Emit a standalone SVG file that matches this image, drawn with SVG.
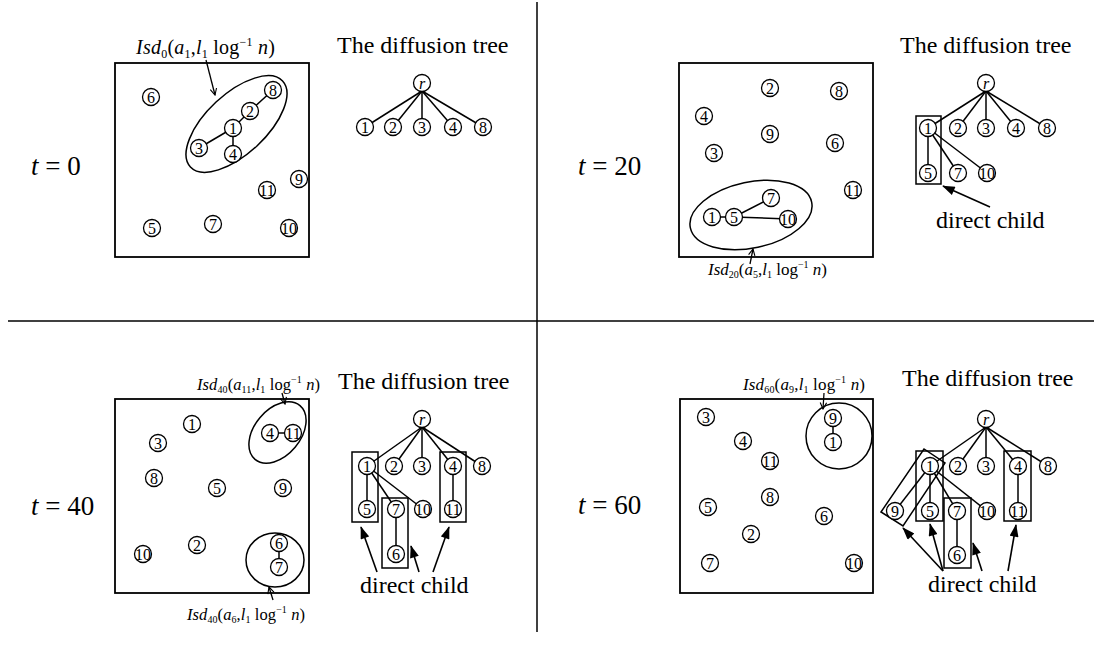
<svg xmlns="http://www.w3.org/2000/svg" width="1094" height="658" viewBox="0 0 1094 658">
<style>
text{font-family:"Liberation Serif","Times New Roman",serif;fill:#000}
.n circle{fill:#fff;stroke:#000;stroke-width:1.3}
.n text{font-size:16px;text-anchor:middle}
.i{font-style:italic}
.box{fill:none;stroke:#000;stroke-width:1.8}
.grp{fill:none;stroke:#000;stroke-width:1.5}
.e{stroke:#000;stroke-width:1.5;fill:none}
.ao{stroke:#000;stroke-width:1.3;fill:none;marker-end:url(#open)}
.as{stroke:#000;stroke-width:1.6;fill:none;marker-end:url(#solid)}
.div{stroke:#000;stroke-width:1.5}
.t{font-size:27px}
.title{font-size:24px}
.lbl{font-size:17px}
</style>
<defs>
<marker id="open" viewBox="0 0 10 10" refX="9" refY="5" markerWidth="8" markerHeight="8" markerUnits="userSpaceOnUse" orient="auto"><path d="M1,1 L9,5 L1,9" fill="none" stroke="#000" stroke-width="1.4"/></marker>
<marker id="solid" viewBox="0 0 14 10" refX="13" refY="5" markerWidth="14" markerHeight="9" markerUnits="userSpaceOnUse" orient="auto"><path d="M0,0 L14,5 L0,10 z" fill="#000"/></marker>
</defs>
<rect width="1094" height="658" fill="#fff"/>

<g id="dividers">
<line class="div" x1="8" y1="321" x2="1094" y2="321"/>
<line class="div" x1="537" y1="2" x2="537" y2="632"/>
</g>

<g id="frames">
<rect class="box" x="115" y="63" width="194" height="194"/>
<rect class="box" x="679" y="63" width="194" height="194"/>
<rect class="box" x="115" y="399" width="194" height="194"/>
<rect class="box" x="680" y="399" width="193" height="194"/>
<ellipse class="grp" cx="236.5" cy="124" rx="63" ry="30" transform="rotate(-43 236.5 124)"/>
<ellipse class="grp" cx="751" cy="215" rx="62" ry="33" transform="rotate(-12 751 215)"/>
<ellipse class="grp" cx="277.5" cy="432.5" rx="35" ry="23" transform="rotate(-50 277.5 432.5)"/>
<ellipse class="grp" cx="275" cy="560" rx="29" ry="27"/>
<circle class="grp" cx="839" cy="436" r="33"/>
<rect class="grp" x="916" y="116" width="25" height="68"/>
<rect class="grp" x="352" y="452" width="26" height="70"/>
<rect class="grp" x="382" y="498" width="26" height="70"/>
<rect class="grp" x="440" y="452" width="26" height="70"/>
<rect class="grp" x="916" y="451" width="27" height="70"/>
<rect class="grp" x="944" y="498" width="27" height="70"/>
<rect class="grp" x="1004" y="451" width="27" height="70"/>
<polygon class="grp" points="881,512 924,449 945,463 903,526"/>
</g>

<g id="labels">
<text class="t" x="31" y="175"><tspan class="i">t</tspan> = 0</text>
<text class="t" x="578" y="175"><tspan class="i">t</tspan> = 20</text>
<text class="t" x="31" y="515"><tspan class="i">t</tspan> = 40</text>
<text class="t" x="578" y="514"><tspan class="i">t</tspan> = 60</text>
<text class="title" x="337" y="53">The diffusion tree</text>
<text class="title" x="900" y="53">The diffusion tree</text>
<text class="title" x="338" y="389">The diffusion tree</text>
<text class="title" x="902" y="386">The diffusion tree</text>
<text class="title" x="936" y="228">direct child</text>
<text class="title" x="360" y="593">direct child</text>
<text class="title" x="928" y="592">direct child</text>
<text x="136" y="54" font-size="20" textLength="139"><tspan class="i">Isd</tspan><tspan font-size="12" dy="4">0</tspan><tspan dy="-4">(</tspan><tspan class="i">a</tspan><tspan font-size="12" dy="4">1</tspan><tspan dy="-4">,</tspan><tspan class="i">l</tspan><tspan font-size="12" dy="4">1</tspan><tspan dy="-4"> log</tspan><tspan font-size="12" dy="-8">−1</tspan><tspan dy="8" class="i"> n</tspan><tspan>)</tspan></text>
<text x="708" y="275" font-size="17" textLength="119"><tspan class="i">Isd</tspan><tspan font-size="10" dy="3">20</tspan><tspan dy="-3">(</tspan><tspan class="i">a</tspan><tspan font-size="10" dy="3">5</tspan><tspan dy="-3">,</tspan><tspan class="i">l</tspan><tspan font-size="10" dy="3">1</tspan><tspan dy="-3"> log</tspan><tspan font-size="10" dy="-7">−1</tspan><tspan dy="7" class="i"> n</tspan><tspan>)</tspan></text>
<text x="197" y="390" font-size="16.5" textLength="123"><tspan class="i">Isd</tspan><tspan font-size="10" dy="3">40</tspan><tspan dy="-3">(</tspan><tspan class="i">a</tspan><tspan font-size="10" dy="3">11</tspan><tspan dy="-3">,</tspan><tspan class="i">l</tspan><tspan font-size="10" dy="3">1</tspan><tspan dy="-3"> log</tspan><tspan font-size="10" dy="-7">−1</tspan><tspan dy="7" class="i"> n</tspan><tspan>)</tspan></text>
<text x="187" y="620" font-size="16.5" textLength="118"><tspan class="i">Isd</tspan><tspan font-size="10" dy="3">40</tspan><tspan dy="-3">(</tspan><tspan class="i">a</tspan><tspan font-size="10" dy="3">6</tspan><tspan dy="-3">,</tspan><tspan class="i">l</tspan><tspan font-size="10" dy="3">1</tspan><tspan dy="-3"> log</tspan><tspan font-size="10" dy="-7">−1</tspan><tspan dy="7" class="i"> n</tspan><tspan>)</tspan></text>
<text x="743" y="390" font-size="17" textLength="122"><tspan class="i">Isd</tspan><tspan font-size="10" dy="3">60</tspan><tspan dy="-3">(</tspan><tspan class="i">a</tspan><tspan font-size="10" dy="3">9</tspan><tspan dy="-3">,</tspan><tspan class="i">l</tspan><tspan font-size="10" dy="3">1</tspan><tspan dy="-3"> log</tspan><tspan font-size="10" dy="-7">−1</tspan><tspan dy="7" class="i"> n</tspan><tspan>)</tspan></text>
</g>

<g id="connectors">
<!-- Q1 field -->
<line class="e" x1="273" y1="90" x2="250" y2="111"/>
<line class="e" x1="250" y1="111" x2="233" y2="128"/>
<line class="e" x1="233" y1="128" x2="199" y2="148"/>
<line class="e" x1="233" y1="128" x2="233" y2="154"/>
<line class="ao" x1="206" y1="60" x2="215" y2="95"/>
<!-- Q1 tree -->
<line class="e" x1="422" y1="91" x2="365" y2="127"/>
<line class="e" x1="422" y1="91" x2="393" y2="127"/>
<line class="e" x1="422" y1="91" x2="422" y2="127"/>
<line class="e" x1="422" y1="91" x2="453" y2="127"/>
<line class="e" x1="422" y1="91" x2="483" y2="127"/>
<!-- Q2 field -->
<line class="e" x1="712" y1="217" x2="734" y2="217"/>
<line class="e" x1="734" y1="217" x2="771" y2="198"/>
<line class="e" x1="734" y1="217" x2="788" y2="219"/>
<line class="ao" x1="750" y1="264" x2="753" y2="249"/>
<!-- Q2 tree -->
<line class="e" x1="986" y1="91" x2="928" y2="128"/>
<line class="e" x1="986" y1="91" x2="958" y2="128"/>
<line class="e" x1="986" y1="91" x2="986" y2="128"/>
<line class="e" x1="986" y1="91" x2="1016" y2="128"/>
<line class="e" x1="986" y1="91" x2="1047" y2="128"/>
<line class="e" x1="928" y1="128" x2="928" y2="173"/>
<line class="e" x1="928" y1="128" x2="958" y2="173"/>
<line class="e" x1="928" y1="128" x2="987" y2="173"/>
<line class="as" x1="990" y1="207" x2="943" y2="186"/>
<!-- Q3 field -->
<line class="e" x1="270" y1="433" x2="293" y2="433"/>
<line class="e" x1="279" y1="543" x2="279" y2="567"/>
<line class="ao" x1="282" y1="393" x2="285" y2="404"/>
<line class="ao" x1="273" y1="600" x2="269" y2="587"/>
<!-- Q3 tree -->
<line class="e" x1="422" y1="427" x2="367" y2="466"/>
<line class="e" x1="422" y1="427" x2="394" y2="466"/>
<line class="e" x1="422" y1="427" x2="422" y2="466"/>
<line class="e" x1="422" y1="427" x2="453" y2="466"/>
<line class="e" x1="422" y1="427" x2="482" y2="466"/>
<line class="e" x1="367" y1="466" x2="367" y2="509"/>
<line class="e" x1="367" y1="466" x2="396" y2="509"/>
<line class="e" x1="367" y1="466" x2="423" y2="509"/>
<line class="e" x1="453" y1="466" x2="453" y2="509"/>
<line class="e" x1="396" y1="509" x2="396" y2="554"/>
<line class="as" x1="377" y1="572" x2="361" y2="527"/>
<line class="as" x1="419" y1="572" x2="411" y2="546"/>
<line class="as" x1="433" y1="572" x2="449" y2="527"/>
<!-- Q4 field -->
<line class="e" x1="833" y1="418" x2="833" y2="442"/>
<line class="ao" x1="824" y1="393" x2="823" y2="409"/>
<!-- Q4 tree -->
<line class="e" x1="986" y1="427" x2="930" y2="466"/>
<line class="e" x1="986" y1="427" x2="958" y2="466"/>
<line class="e" x1="986" y1="427" x2="986" y2="466"/>
<line class="e" x1="986" y1="427" x2="1018" y2="466"/>
<line class="e" x1="986" y1="427" x2="1048" y2="466"/>
<line class="e" x1="930" y1="466" x2="895" y2="511"/>
<line class="e" x1="930" y1="466" x2="930" y2="511"/>
<line class="e" x1="930" y1="466" x2="957" y2="511"/>
<line class="e" x1="930" y1="466" x2="987" y2="511"/>
<line class="e" x1="1018" y1="466" x2="1018" y2="511"/>
<line class="e" x1="957" y1="511" x2="957" y2="555"/>
<line class="as" x1="943" y1="571" x2="903" y2="528"/>
<line class="as" x1="943" y1="571" x2="930" y2="524"/>
<line class="as" x1="982" y1="571" x2="973" y2="543"/>
<line class="as" x1="1008" y1="571" x2="1016" y2="525"/>
</g>

<!-- Q1 field nodes -->
<g id="q1f-6" class="n"><circle cx="151" cy="97" r="8.5"/><text x="151" y="102.5">6</text></g>
<g id="q1f-8" class="n"><circle cx="273" cy="90" r="8.5"/><text x="273" y="95.5">8</text></g>
<g id="q1f-2" class="n"><circle cx="250" cy="111" r="8.5"/><text x="250" y="116.5">2</text></g>
<g id="q1f-1" class="n"><circle cx="233" cy="128" r="8.5"/><text x="233" y="133.5">1</text></g>
<g id="q1f-3" class="n"><circle cx="199" cy="148" r="8.5"/><text x="199" y="153.5">3</text></g>
<g id="q1f-4" class="n"><circle cx="233" cy="154" r="8.5"/><text x="233" y="159.5">4</text></g>
<g id="q1f-9" class="n"><circle cx="299" cy="179" r="8.5"/><text x="299" y="184.5">9</text></g>
<g id="q1f-11" class="n"><circle cx="267" cy="190" r="8.5"/><text x="267" y="195.5">11</text></g>
<g id="q1f-5" class="n"><circle cx="152" cy="228" r="8.5"/><text x="152" y="233.5">5</text></g>
<g id="q1f-7" class="n"><circle cx="213" cy="224" r="8.5"/><text x="213" y="229.5">7</text></g>
<g id="q1f-10" class="n"><circle cx="289" cy="228" r="8.5"/><text x="289" y="233.5">10</text></g>
<!-- Q1 tree nodes -->
<g id="q1t-r" class="n"><circle cx="422" cy="83" r="8.5"/><text class="i" x="422" y="88.5">r</text></g>
<g id="q1t-1" class="n"><circle cx="365" cy="127" r="8.5"/><text x="365" y="132.5">1</text></g>
<g id="q1t-2" class="n"><circle cx="393" cy="127" r="8.5"/><text x="393" y="132.5">2</text></g>
<g id="q1t-3" class="n"><circle cx="422" cy="127" r="8.5"/><text x="422" y="132.5">3</text></g>
<g id="q1t-4" class="n"><circle cx="453" cy="127" r="8.5"/><text x="453" y="132.5">4</text></g>
<g id="q1t-8" class="n"><circle cx="483" cy="127" r="8.5"/><text x="483" y="132.5">8</text></g>
<!-- Q2 field nodes -->
<g id="q2f-2" class="n"><circle cx="770" cy="88" r="8.5"/><text x="770" y="93.5">2</text></g>
<g id="q2f-8" class="n"><circle cx="839" cy="91" r="8.5"/><text x="839" y="96.5">8</text></g>
<g id="q2f-4" class="n"><circle cx="704" cy="116" r="8.5"/><text x="704" y="121.5">4</text></g>
<g id="q2f-9" class="n"><circle cx="770" cy="134" r="8.5"/><text x="770" y="139.5">9</text></g>
<g id="q2f-6" class="n"><circle cx="835" cy="143" r="8.5"/><text x="835" y="148.5">6</text></g>
<g id="q2f-3" class="n"><circle cx="714" cy="153" r="8.5"/><text x="714" y="158.5">3</text></g>
<g id="q2f-11" class="n"><circle cx="853" cy="190" r="8.5"/><text x="853" y="195.5">11</text></g>
<g id="q2f-7" class="n"><circle cx="771" cy="198" r="8.5"/><text x="771" y="203.5">7</text></g>
<g id="q2f-1" class="n"><circle cx="712" cy="217" r="8.5"/><text x="712" y="222.5">1</text></g>
<g id="q2f-5" class="n"><circle cx="734" cy="217" r="8.5"/><text x="734" y="222.5">5</text></g>
<g id="q2f-10" class="n"><circle cx="788" cy="219" r="8.5"/><text x="788" y="224.5">10</text></g>
<!-- Q2 tree nodes -->
<g id="q2t-r" class="n"><circle cx="986" cy="83" r="8.5"/><text class="i" x="986" y="88.5">r</text></g>
<g id="q2t-1" class="n"><circle cx="928" cy="128" r="8.5"/><text x="928" y="133.5">1</text></g>
<g id="q2t-2" class="n"><circle cx="958" cy="128" r="8.5"/><text x="958" y="133.5">2</text></g>
<g id="q2t-3" class="n"><circle cx="986" cy="128" r="8.5"/><text x="986" y="133.5">3</text></g>
<g id="q2t-4" class="n"><circle cx="1016" cy="128" r="8.5"/><text x="1016" y="133.5">4</text></g>
<g id="q2t-8" class="n"><circle cx="1047" cy="128" r="8.5"/><text x="1047" y="133.5">8</text></g>
<g id="q2t-5" class="n"><circle cx="928" cy="173" r="8.5"/><text x="928" y="178.5">5</text></g>
<g id="q2t-7" class="n"><circle cx="958" cy="173" r="8.5"/><text x="958" y="178.5">7</text></g>
<g id="q2t-10" class="n"><circle cx="987" cy="173" r="8.5"/><text x="987" y="178.5">10</text></g>
<!-- Q3 field nodes -->
<g id="q3f-1" class="n"><circle cx="192" cy="424" r="8.5"/><text x="192" y="429.5">1</text></g>
<g id="q3f-3" class="n"><circle cx="158" cy="443" r="8.5"/><text x="158" y="448.5">3</text></g>
<g id="q3f-4" class="n"><circle cx="270" cy="433" r="8.5"/><text x="270" y="438.5">4</text></g>
<g id="q3f-11" class="n"><circle cx="293" cy="433" r="8.5"/><text x="293" y="438.5">11</text></g>
<g id="q3f-8" class="n"><circle cx="154" cy="478" r="8.5"/><text x="154" y="483.5">8</text></g>
<g id="q3f-5" class="n"><circle cx="217" cy="488" r="8.5"/><text x="217" y="493.5">5</text></g>
<g id="q3f-9" class="n"><circle cx="283" cy="488" r="8.5"/><text x="283" y="493.5">9</text></g>
<g id="q3f-6" class="n"><circle cx="279" cy="543" r="8.5"/><text x="279" y="548.5">6</text></g>
<g id="q3f-7" class="n"><circle cx="279" cy="567" r="8.5"/><text x="279" y="572.5">7</text></g>
<g id="q3f-2" class="n"><circle cx="197" cy="545" r="8.5"/><text x="197" y="550.5">2</text></g>
<g id="q3f-10" class="n"><circle cx="143" cy="554" r="8.5"/><text x="143" y="559.5">10</text></g>
<!-- Q3 tree nodes -->
<g id="q3t-r" class="n"><circle cx="422" cy="419" r="8.5"/><text class="i" x="422" y="424.5">r</text></g>
<g id="q3t-1" class="n"><circle cx="367" cy="466" r="8.5"/><text x="367" y="471.5">1</text></g>
<g id="q3t-2" class="n"><circle cx="394" cy="466" r="8.5"/><text x="394" y="471.5">2</text></g>
<g id="q3t-3" class="n"><circle cx="422" cy="466" r="8.5"/><text x="422" y="471.5">3</text></g>
<g id="q3t-4" class="n"><circle cx="453" cy="466" r="8.5"/><text x="453" y="471.5">4</text></g>
<g id="q3t-8" class="n"><circle cx="482" cy="466" r="8.5"/><text x="482" y="471.5">8</text></g>
<g id="q3t-5" class="n"><circle cx="367" cy="509" r="8.5"/><text x="367" y="514.5">5</text></g>
<g id="q3t-7" class="n"><circle cx="396" cy="509" r="8.5"/><text x="396" y="514.5">7</text></g>
<g id="q3t-10" class="n"><circle cx="423" cy="509" r="8.5"/><text x="423" y="514.5">10</text></g>
<g id="q3t-11" class="n"><circle cx="453" cy="509" r="8.5"/><text x="453" y="514.5">11</text></g>
<g id="q3t-6" class="n"><circle cx="396" cy="554" r="8.5"/><text x="396" y="559.5">6</text></g>
<!-- Q4 field nodes -->
<g id="q4f-3" class="n"><circle cx="706" cy="417" r="8.5"/><text x="706" y="422.5">3</text></g>
<g id="q4f-4" class="n"><circle cx="743" cy="441" r="8.5"/><text x="743" y="446.5">4</text></g>
<g id="q4f-11" class="n"><circle cx="770" cy="461" r="8.5"/><text x="770" y="466.5">11</text></g>
<g id="q4f-9" class="n"><circle cx="833" cy="418" r="8.5"/><text x="833" y="423.5">9</text></g>
<g id="q4f-1" class="n"><circle cx="833" cy="442" r="8.5"/><text x="833" y="447.5">1</text></g>
<g id="q4f-8" class="n"><circle cx="770" cy="497" r="8.5"/><text x="770" y="502.5">8</text></g>
<g id="q4f-5" class="n"><circle cx="708" cy="507" r="8.5"/><text x="708" y="512.5">5</text></g>
<g id="q4f-6" class="n"><circle cx="824" cy="516" r="8.5"/><text x="824" y="521.5">6</text></g>
<g id="q4f-2" class="n"><circle cx="751" cy="534" r="8.5"/><text x="751" y="539.5">2</text></g>
<g id="q4f-7" class="n"><circle cx="710" cy="563" r="8.5"/><text x="710" y="568.5">7</text></g>
<g id="q4f-10" class="n"><circle cx="854" cy="563" r="8.5"/><text x="854" y="568.5">10</text></g>
<!-- Q4 tree nodes -->
<g id="q4t-r" class="n"><circle cx="986" cy="419" r="8.5"/><text class="i" x="986" y="424.5">r</text></g>
<g id="q4t-1" class="n"><circle cx="930" cy="466" r="8.5"/><text x="930" y="471.5">1</text></g>
<g id="q4t-2" class="n"><circle cx="958" cy="466" r="8.5"/><text x="958" y="471.5">2</text></g>
<g id="q4t-3" class="n"><circle cx="986" cy="466" r="8.5"/><text x="986" y="471.5">3</text></g>
<g id="q4t-4" class="n"><circle cx="1018" cy="466" r="8.5"/><text x="1018" y="471.5">4</text></g>
<g id="q4t-8" class="n"><circle cx="1048" cy="466" r="8.5"/><text x="1048" y="471.5">8</text></g>
<g id="q4t-9" class="n"><circle cx="895" cy="511" r="8.5"/><text x="895" y="516.5">9</text></g>
<g id="q4t-5" class="n"><circle cx="930" cy="511" r="8.5"/><text x="930" y="516.5">5</text></g>
<g id="q4t-7" class="n"><circle cx="957" cy="511" r="8.5"/><text x="957" y="516.5">7</text></g>
<g id="q4t-10" class="n"><circle cx="987" cy="511" r="8.5"/><text x="987" y="516.5">10</text></g>
<g id="q4t-11" class="n"><circle cx="1018" cy="511" r="8.5"/><text x="1018" y="516.5">11</text></g>
<g id="q4t-6" class="n"><circle cx="957" cy="555" r="8.5"/><text x="957" y="560.5">6</text></g>
</svg>
